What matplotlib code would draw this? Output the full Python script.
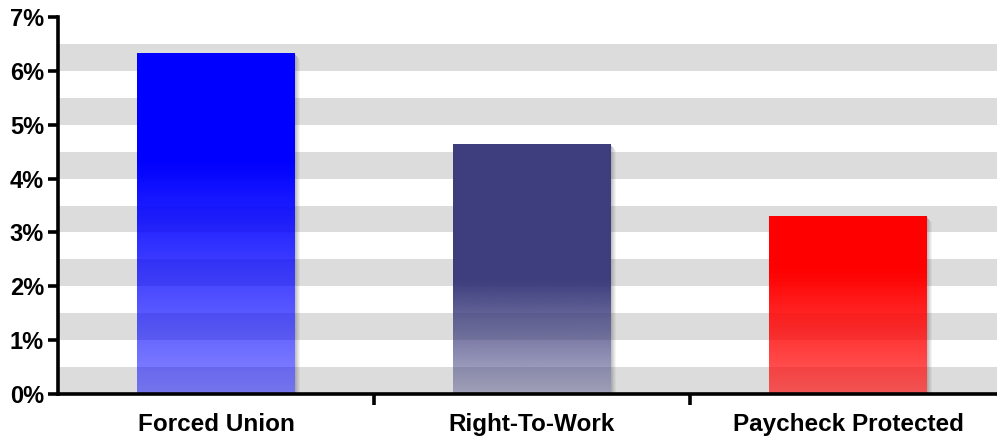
import numpy as np
import matplotlib
matplotlib.use("Agg")
import matplotlib.pyplot as plt
from matplotlib.colors import to_rgb

plt.rcParams['font.family'] = ['Liberation Sans', 'DejaVu Sans']

categories = ['Forced Union', 'Right-To-Work', 'Paycheck Protected']
values = [6.33, 4.64, 3.30]
colors = ['#0000ff', '#3e3e7e', '#ff0000']
# level (in %) where each bar starts to fade, and opacity at the baseline
fade_start = [4.3, 2.1, 2.3]
bottom_alpha = [0.47, 0.38, 0.62]

DPI = 100
W, H = 997, 437
ax_px = (58, 43, 948, 377)  # left, bottom, width, height in pixels

fig = plt.figure(figsize=(W / DPI, H / DPI), dpi=DPI)
ax = fig.add_axes([ax_px[0] / W, ax_px[1] / H, ax_px[2] / W, ax_px[3] / H])

# alternating grey bands every half percent
for n in range(7):
    ax.axhspan(n, n + 0.5, color='#dcdcdc', lw=0, zorder=0)

width = 0.5
xpx = 3.0 / ax_px[2]   # data units per pixel, x
ypx = 7.0 / ax_px[3]   # data units per pixel, y
for i, (v, c, fs, ba) in enumerate(zip(values, colors, fade_start, bottom_alpha)):
    x0 = i - width / 2
    x1 = x0 + width
    # soft drop shadow along the right edge
    for k, a in [(1, 0.35), (2, 0.28), (3, 0.2), (4, 0.12), (5, 0.06)]:
        ax.fill_between([x1 + (k - 1) * xpx, x1 + k * xpx], 0, v - (k + 1) * ypx,
                        color='#505050', alpha=a, lw=0, zorder=1)
    # vertical gradient: opaque at the top, fading toward the baseline
    y = np.linspace(0, v, 300)
    alpha = np.where(y >= fs, 1.0, ba + (1 - ba) * y / fs)
    img = np.zeros((len(y), 1, 4))
    img[:, 0, :3] = to_rgb(c)
    img[:, 0, 3] = alpha
    ax.imshow(img, extent=[x0, x1, 0, v], origin='lower', aspect='auto',
              interpolation='bilinear', zorder=2)

ax.set_xlim(-0.5, 2.5)
ax.set_ylim(0, 7)

ax.spines['top'].set_visible(False)
ax.spines['right'].set_visible(False)
ax.spines['left'].set_linewidth(2.6)
ax.spines['bottom'].set_linewidth(2.6)
ax.spines['left'].set_zorder(5)
ax.spines['bottom'].set_zorder(5)

ax.set_yticks(range(8))
ax.set_yticklabels([f'{t}%' for t in range(8)], fontsize=17, fontweight='bold')
ax.tick_params(axis='y', length=7, width=2.6, pad=3)

# ticks sit between categories, labels at the centres
ax.set_xticks([0.5, 1.5, 2.5])
ax.set_xticklabels([])
ax.set_xticks(range(3), minor=True)
ax.set_xticklabels(categories, minor=True, fontsize=17.5, fontweight='bold')
ax.tick_params(axis='x', which='major', length=8, width=2.6, direction='out')
ax.tick_params(axis='x', which='minor', length=0, pad=14)

fig.savefig('out.png', dpi=DPI)
